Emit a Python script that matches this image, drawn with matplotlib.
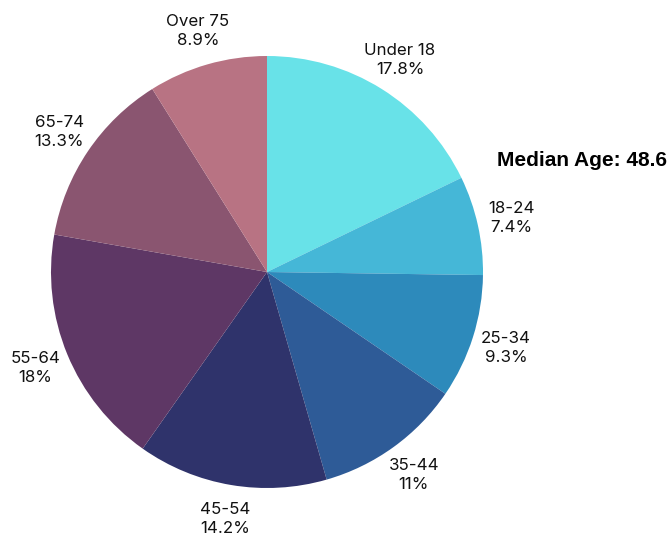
import numpy as np
import matplotlib
matplotlib.use('Agg')
import matplotlib.pyplot as plt

groups = ['Under 18', '18-24', '25-34', '35-44', '45-54', '55-64', '65-74', 'Over 75']
shares = [17.8, 7.4, 9.3, 11, 14.2, 18, 13.3, 8.9]
share_labels = ['17.8%', '7.4%', '9.3%', '11%', '14.2%', '18%', '13.3%', '8.9%']
colors = ['#68E2E8', '#45B7D7', '#2D8ABB', '#2E5B97', '#2F336B', '#5E3765', '#8A5570', '#B87383']
median_age = 48.6

fig = plt.figure(figsize=(6.72, 5.37), dpi=100)
ax = fig.add_axes([0, 0, 1, 1])

cx, cy, r = 267, 265, 216
wedges, _ = ax.pie(shares, colors=colors, startangle=90, counterclock=False,
                   radius=r, center=(cx, cy), frame=True)
ax.set_xlim(0, 672)
ax.set_ylim(0, 537)
ax.set_aspect('equal')
ax.axis('off')

for w, g, s in zip(wedges, groups, share_labels):
    ang = np.deg2rad((w.theta1 + w.theta2) / 2)
    x = cx + 1.16 * r * np.cos(ang)
    y = cy + 1.16 * r * np.sin(ang)
    ax.text(x, y, f'{g}\n{s}', ha='center', va='center', fontsize=12.2,
            family='Inter', linespacing=1.35, color='#111111')

ax.text(497, 376, f'Median Age: {median_age}', ha='left', va='center',
        fontsize=15, fontweight='bold', family='Liberation Sans')

fig.savefig('out.png', dpi=100)
